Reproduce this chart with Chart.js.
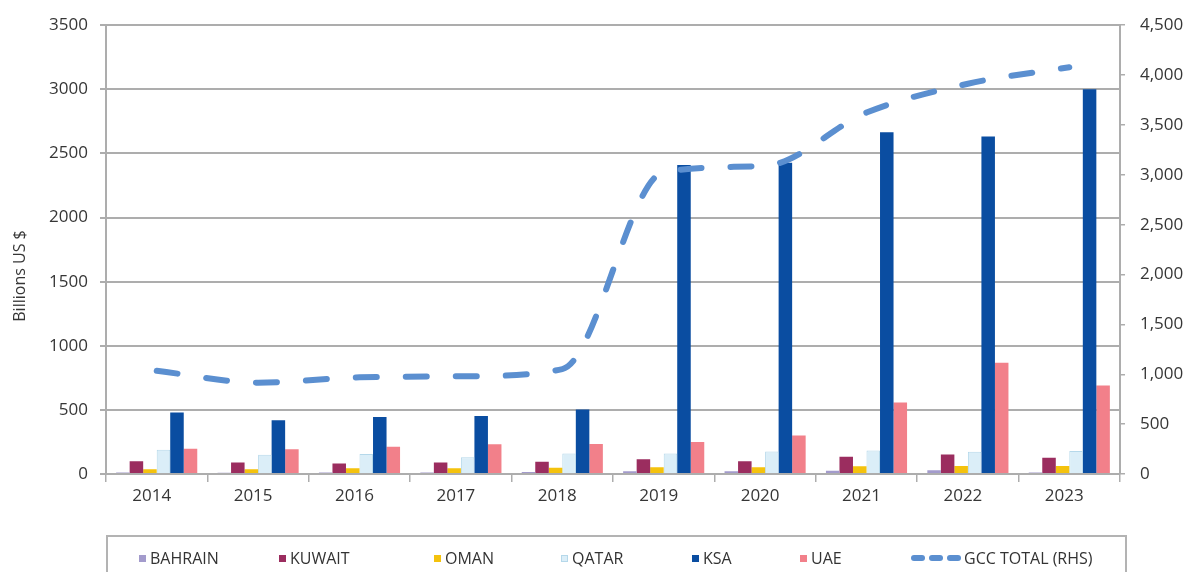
<!DOCTYPE html>
<html>
<head>
<meta charset="utf-8">
<script src="https://cdn.jsdelivr.net/npm/chart.js@4.4.1/dist/chart.umd.min.js"></script>
<style>
  body { margin: 0; background: #fff; }
  #wrap { position: relative; width: 1193px; height: 572px; overflow: hidden; }
  #chart { position: absolute; left: 0; top: 0; }
  #legend {
    position: absolute; left: 106px; top: 535px; width: 1021px; height: 60px;
    border: 2px solid #b3b3b3; box-sizing: border-box;
    font: 16px "Open Sans", Arial, sans-serif; color: #333;
  }
  .item { position: absolute; top: 10px; height: 22px; line-height: 22px; white-space: nowrap; }
  .box { position: absolute; top: 8px; width: 7px; height: 7px; box-sizing: border-box; }
  .dash { position: absolute; top: 8px; width: 14px; height: 6px; border-radius: 3px; }
</style>
</head>
<body>
<div id="wrap">
  <canvas id="chart" width="1193" height="572"></canvas>
  <div id="legend"></div>
</div>
<script>
const years = ["2014", "2015", "2016", "2017", "2018", "2019", "2020", "2021", "2022", "2023"];

// Billions US $
const bahrain = [12, 10, 12, 12, 15, 22, 22, 25, 30, 12];
const kuwait  = [100, 90, 82, 90, 96, 115, 100, 135, 152, 127];
const oman    = [38, 38, 44, 44, 49, 52, 52, 60, 62, 62];
const qatar   = [190, 150, 155, 130, 160, 160, 175, 183, 173, 180];
const ksa     = [480, 420, 445, 452, 503, 2410, 2428, 2665, 2632, 3000];
const uae     = [196, 193, 212, 232, 233, 250, 300, 558, 868, 690];
const gccTotal = [1035, 916, 969, 980, 1052, 3027, 3090, 3624, 3913, 4079];

const leftTicks = [0, 500, 1000, 1500, 2000, 2500, 3000, 3500];
const rightTicks = [0, 500, 1000, 1500, 2000, 2500, 3000, 3500, 4000, 4500];

const textColor = "#363636";
const gridColor = "#adadad";
const lineColor = "#5b8fd0";
const font = { family: "'Open Sans', Arial, sans-serif", size: 17 };

const bars = [
  { label: "BAHRAIN", data: bahrain, color: "#a39bcc" },
  { label: "KUWAIT",  data: kuwait,  color: "#9b2d5f" },
  { label: "OMAN",    data: oman,    color: "#f4c20d" },
  { label: "QATAR",   data: qatar,   color: "#dbeef8", border: "#b5d8ea" },
  { label: "KSA",     data: ksa,     color: "#0a4da1" },
  { label: "UAE",     data: uae,     color: "#f2808a" }
];

const datasets = bars.map(b => ({
  type: "bar",
  label: b.label,
  data: b.data,
  backgroundColor: b.color,
  borderColor: b.border || b.color,
  borderWidth: b.border ? 1 : 0,
  yAxisID: "y",
  barPercentage: 1,
  categoryPercentage: 0.8,
  order: 2
}));

datasets.push({
  type: "line",
  label: "GCC TOTAL (RHS)",
  data: gccTotal,
  yAxisID: "y2",
  borderColor: lineColor,
  borderWidth: 6,
  borderDash: [21, 29],
  borderCapStyle: "round",
  pointRadius: 0,
  cubicInterpolationMode: "monotone",
  fill: false,
  order: 1
});

// left axis caption sits a bit below the middle of the plot
const axisCaption = {
  id: "axisCaption",
  afterDraw(chart) {
    const ctx = chart.ctx;
    ctx.save();
    ctx.translate(20, 276);
    ctx.rotate(-Math.PI / 2);
    ctx.font = "16px 'Open Sans', Arial, sans-serif";
    ctx.fillStyle = textColor;
    ctx.textAlign = "center";
    ctx.textBaseline = "middle";
    ctx.fillText("Billions US $", 0, 0);
    ctx.restore();
  }
};

new Chart(document.getElementById("chart"), {
  data: { labels: years, datasets: datasets },
  plugins: [axisCaption],
  options: {
    responsive: false,
    animation: false,
    layout: { padding: { top: 22, bottom: 60, left: 0, right: 0 } },
    plugins: {
      legend: { display: false },
      tooltip: { enabled: false }
    },
    scales: {
      x: {
        grid: { offset: true, drawOnChartArea: false, drawTicks: true, tickLength: 8, color: gridColor, lineWidth: 1.5 },
        border: { color: gridColor, width: 2 },
        ticks: { font: font, color: textColor, padding: 4, labelOffset: -5 },
        afterFit: s => { s.height = 38; }
      },
      y: {
        position: "left",
        min: 0, max: 3500,
        afterBuildTicks: s => { s.ticks = leftTicks.map(v => ({ value: v })); },
        grid: { color: gridColor, lineWidth: 2, tickLength: 6 },
        border: { color: gridColor, width: 2 },
        ticks: { font: font, color: textColor, padding: 12, callback: v => String(v) },
        afterFit: s => { s.width = 106; }
      },
      y2: {
        position: "right",
        min: 0, max: 4500,
        afterBuildTicks: s => { s.ticks = rightTicks.map(v => ({ value: v })); },
        grid: { drawOnChartArea: false, color: gridColor, lineWidth: 1.5, tickLength: 5 },
        border: { color: gridColor, width: 2 },
        ticks: { font: font, color: textColor, padding: 15, callback: v => v.toLocaleString("en-US") },
        afterFit: s => { s.width = 73; }
      }
    }
  }
});

// legend entries, laid out along the boxed strip under the chart
const legendX = [31, 171, 326, 453, 584, 692, 803];
const legend = document.getElementById("legend");
bars.forEach((b, i) => {
  const item = document.createElement("div");
  item.className = "item";
  item.style.left = legendX[i] + "px";
  item.style.paddingLeft = "11px";
  const sw = document.createElement("span");
  sw.className = "box";
  sw.style.left = "0px";
  sw.style.background = b.color;
  if (b.border) sw.style.border = "1px solid " + b.border;
  item.appendChild(sw);
  item.appendChild(document.createTextNode(b.label));
  legend.appendChild(item);
});
const lineItem = document.createElement("div");
lineItem.className = "item";
lineItem.style.left = legendX[6] + "px";
lineItem.style.paddingLeft = "53px";
[0, 18, 36].forEach(x => {
  const d = document.createElement("span");
  d.className = "dash";
  d.style.left = x + "px";
  d.style.background = lineColor;
  lineItem.appendChild(d);
});
lineItem.appendChild(document.createTextNode("GCC TOTAL (RHS)"));
legend.appendChild(lineItem);
</script>
</body>
</html>
